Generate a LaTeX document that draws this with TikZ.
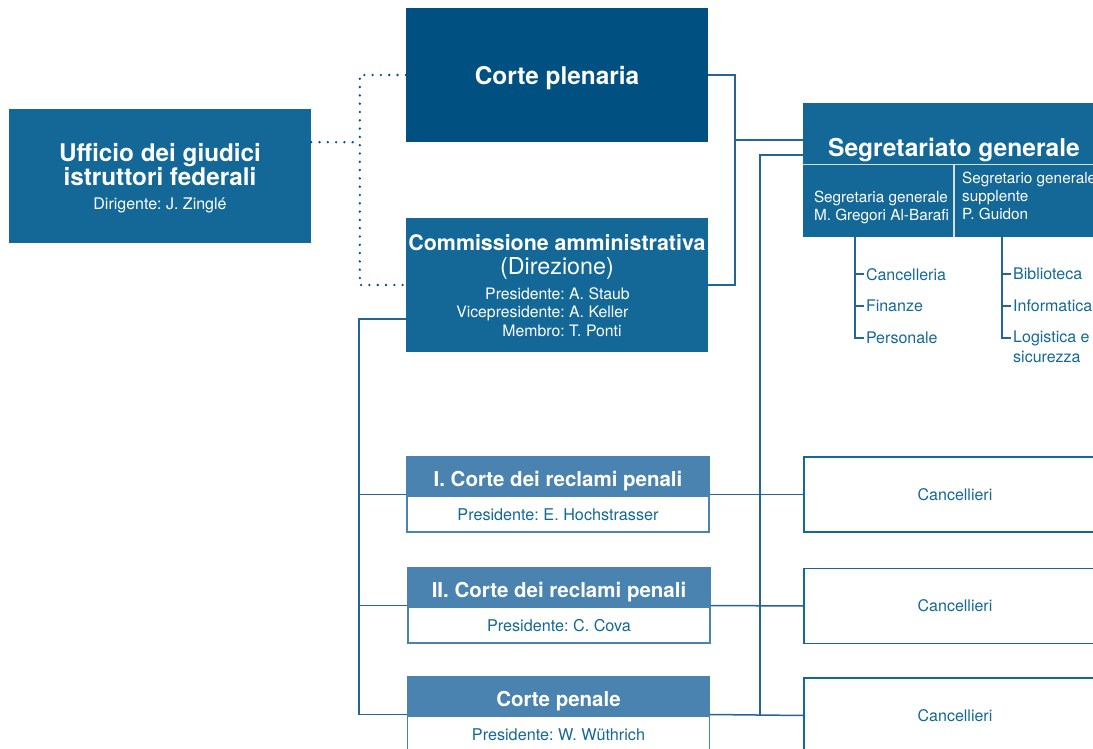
\documentclass[tikz,border=0pt]{standalone}
\usepackage{fontspec}
\setmainfont{TeX Gyre Heros}
\frenchspacing
\usetikzlibrary{positioning}
\definecolor{tbdark}{RGB}{0,81,130}
\definecolor{tbmid}{RGB}{19,104,152}
\definecolor{tblight}{RGB}{74,131,176}
\definecolor{tbline}{RGB}{38,100,150}
\newcommand{\widthbox}{302pt}
\newcommand{\heightbox}{134pt}
\newcommand{\heightcourt}{75pt}
\tikzset{
    common/.style={rectangle, minimum width=\widthbox, inner sep=0pt, align=center, text=white},
    big/.style={common, minimum height=\heightbox},
    darkbox/.style={big, fill=tbdark},
    midbox/.style={big, fill=tbmid},
    court/.style={common, minimum height=\heightcourt, draw=tblight, fill=white, line width=1.3pt},
    courthead/.style={common, anchor=north, minimum height=39pt, fill=tblight, draw=tblight, line width=1.3pt,
        text height=19pt, text depth=0pt, font=\bfseries\fontsize{20.5}{22}\selectfont},
    courttext/.style={text=tbmid, font=\fontsize{16.2}{18}\selectfont},
    staff/.style={common, minimum height=\heightcourt, draw=tbmid, fill=white, line width=1.5pt,
        text=tbmid, font=\fontsize{16}{18}\selectfont},
    subtext/.style={anchor=west, inner sep=2pt, align=left, text=white, font=\fontsize{15.3}{18}\selectfont},
    unit/.style={anchor=west, inner sep=2pt, text=tbmid, font=\fontsize{16}{18}\selectfont},
    link/.style={draw=tbline, line width=1.5pt},
    dotlink/.style={draw=tbdark, line width=2.6pt, line cap=round, dash pattern=on 0pt off 8.3pt}
}

\begin{document}
\begin{tikzpicture}[x=1pt, y=-1pt]
    \useasboundingbox (0,0) rectangle (1093,749);
    \clip (0,0) rectangle (1093,749);

    % upper level
    \node[midbox, text depth=0pt, font=\bfseries\fontsize{24.3}{24}\selectfont] (ufficio) at (160,176)
        {Ufficio dei giudici\\istruttori federali\\{\mdseries\fontsize{16}{18}\selectfont Dirigente: J. Zinglé}};
    \node[darkbox, text depth=0pt, font=\bfseries\fontsize{24.4}{26}\selectfont] (plenaria) at (557,75) {Corte plenaria};
    \node[midbox] (commissione) at (557,285) {};
    \node[align=center, inner sep=0pt, text=white, font=\fontsize{23.3}{24.5}\selectfont] (direzione)
        at ([yshift=-3pt]commissione.center)
        {{\bfseries\fontsize{21.4}{24}\selectfont Commissione amministrativa}\\(Direzione)\\
         \hspace*{-28pt}{\fontsize{15.8}{18.5}\selectfont\begin{tabular}[t]{@{}r@{\ }l@{}}
            Presidente:&A. Staub\\
            Vicepresidente:&A. Keller\\
            Membro:&T. Ponti
         \end{tabular}}};

    % segretariato
    \node[midbox] (segretariato) at (954,170) {};
    \node[anchor=base, text=white, font=\bfseries\fontsize{24.6}{26}\selectfont] (segtitle)
        at ([yshift=-54pt]segretariato.north) {Segretariato generale};
    \draw[white!80!tbmid, line width=1.2pt] ([yshift=-62pt]segretariato.north west) -- ([yshift=-62pt]segretariato.north east);
    \draw[white!80!tbmid, line width=1.2pt] ([yshift=-62pt]segretariato.north) -- (segretariato.south);
    \node[subtext] (segretaria) at ([xshift=9pt, yshift=-37pt]segretariato.west)
        {Segretaria generale\\M. Gregori Al-Barafi};
    \node[subtext] (supplente) at ([xshift=6pt, yshift=41pt]segretariato.south)
        {Segretario generale\\supplente\\P. Guidon};

    \node[unit] (cancelleria) at ([xshift=61pt, yshift=-37pt]segretariato.south west) {Cancelleria};
    \node[unit] (finanze) at ([yshift=-32pt]cancelleria.west) {Finanze};
    \node[unit] (personale) at ([yshift=-32pt]finanze.west) {Personale};
    \node[unit] (biblioteca) at ([xshift=57pt, yshift=-37pt]segretariato.south) {Biblioteca};
    \node[unit] (informatica) at ([yshift=-32pt]biblioteca.west) {Informatica};
    \node[unit] (logistica) at ([yshift=-32pt]informatica.west) {Logistica e};
    \node[unit] (sicurezza) at ([yshift=-19pt]logistica.west) {sicurezza};

    % courts
    \node[court] (corteI) at (558,494.5) {};
    \node[courthead] at (corteI.north) {I. Corte dei reclami penali};
    \node[courttext] at ([yshift=18pt]corteI.south) {Presidente: E. Hochstrasser};
    \node[court] (corteII) at (559,605.5) {};
    \node[courthead] at (corteII.north) {II. Corte dei reclami penali};
    \node[courttext] at ([yshift=18pt]corteII.south) {Presidente: C. Cova};
    \node[court] (corteP) at (558.5,714.5) {};
    \node[courthead] at (corteP.north) {Corte penale};
    \node[courttext] at ([yshift=18pt]corteP.south) {Presidente: W. Wüthrich};

    \node[staff] (cancI) at (955,494.5) {Cancellieri};
    \node[staff] (cancII) at (955,606) {Cancellieri};
    \node[staff] (cancP) at (955,715.5) {Cancellieri};

    % connectors
    \draw[dotlink] (plenaria.west) -- ++(-46,0) coordinate (busD) |- (commissione.west);
    \draw[dotlink] (ufficio.east |- plenaria.south) -- (busD |- plenaria.south);
    \draw[link] (plenaria.east) -- ++(27,0) coordinate (busR) |- (commissione.east);
    \draw[link] ([yshift=30pt]segretariato.west) -| (busR);
    \draw[link] ([yshift=15pt]segretariato.west) -- ++(-43,0) |- (cancP.west);
    \draw[link] ([yshift=-34pt]commissione.west) -- ++(-47,0) coordinate (busL) |- (corteP.west);
    \foreach \i in {I,II} \draw[link] (busL) |- (corte\i.west);
    \foreach \i in {I,II,P} \draw[link] (corte\i.east) -- (canc\i.west);
    \foreach \n in {cancelleria,finanze,personale}
        \draw[link] (segretariato.south -| cancelleria.west) ++(-9,0) |- (\n.west);
    \foreach \n in {biblioteca,informatica,logistica}
        \draw[link] (segretariato.south -| biblioteca.west) ++(-9,0) |- (\n.west);
\end{tikzpicture}
\end{document}
